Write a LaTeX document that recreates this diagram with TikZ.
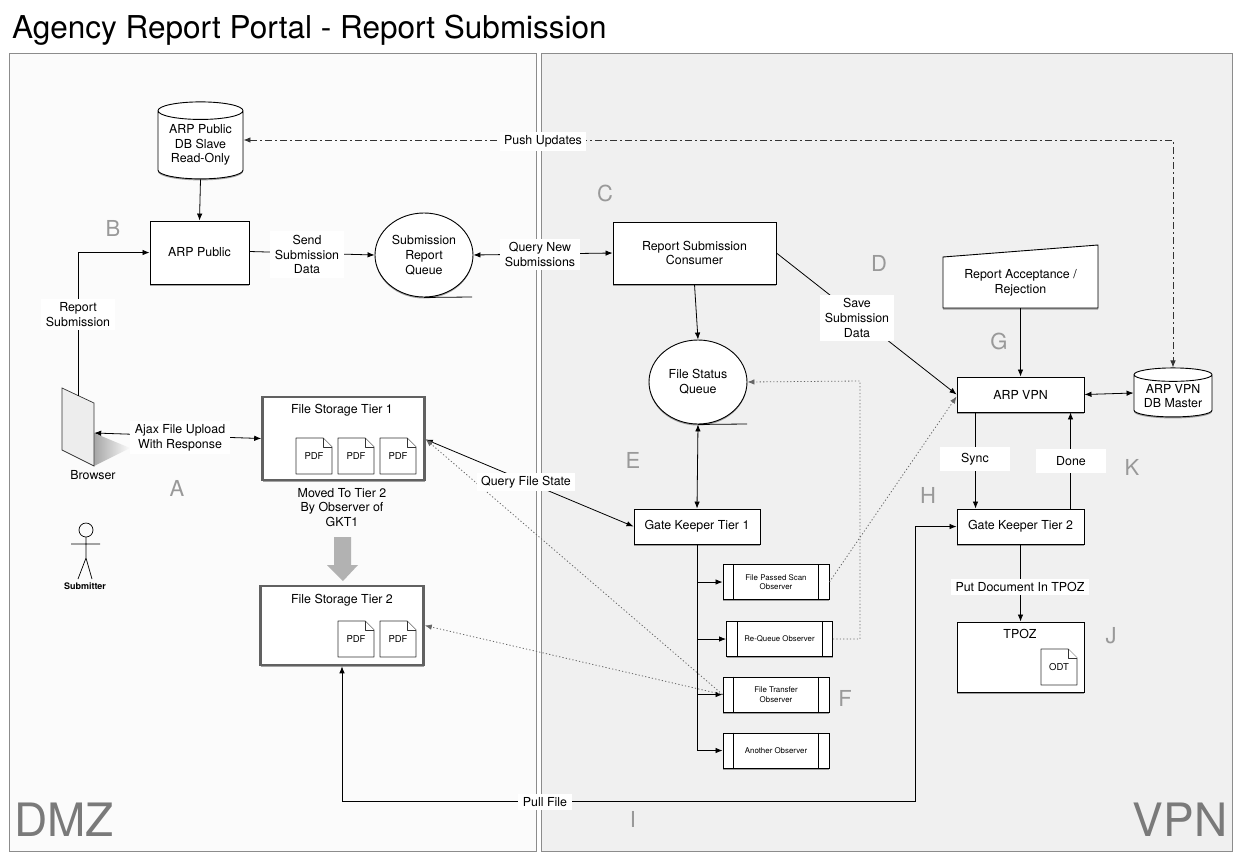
\documentclass[tikz,border=0pt]{standalone}
\usepackage{fontspec}
\setmainfont{TeX Gyre Heros}
\usetikzlibrary{arrows.meta,shapes.geometric,shadows,calc}
\definecolor{dmzbg}{HTML}{FBFBFB}
\definecolor{vpnbg}{HTML}{F0F0F0}
\definecolor{lettergray}{HTML}{999999}
\definecolor{bigtext}{HTML}{7A7A7A}
\tikzset{
  x=1pt,y=-1pt,
  softshadow/.style={drop shadow={shadow xshift=0pt,shadow yshift=-1.5pt,opacity=.35,fill=black}},
  panel/.style={draw=black!45,line width=.7pt,anchor=north west,inner sep=0pt},
  box/.style={draw=black,fill=white,line width=.9pt,inner sep=1pt,align=center,font=\fontsize{12.4}{14.8}\selectfont,softshadow},
  tierbox/.style={draw=black!62,fill=white,line width=2.6pt,inner sep=0pt,softshadow},
  tiertitle/.style={font=\fontsize{12.4}{14.8}\selectfont,inner sep=0pt},
  queue/.style={ellipse,draw=black,fill=white,line width=.9pt,inner sep=0pt,align=center,font=\fontsize{12.4}{14.8}\selectfont,softshadow},
  dbase/.style={cylinder,shape border rotate=90,draw=black,fill=white,line width=.9pt,inner sep=0pt,align=center,font=\fontsize{12.4}{14.8}\selectfont,softshadow,cylinder uses custom fill,cylinder body fill=white,cylinder end fill=white},
  lbl/.style={fill=white,inner xsep=4.5pt,inner ysep=3.5pt,align=center,font=\fontsize{12.4}{14.8}\selectfont},
  plain/.style={inner sep=0pt,align=center,font=\fontsize{12.4}{14.8}\selectfont},
  letter/.style={text=lettergray,inner sep=0pt,font=\fontsize{22}{24}\selectfont},
  bigname/.style={text=bigtext,inner sep=0pt,font=\fontsize{46}{48}\selectfont},
  conn/.style={draw=black,line width=.8pt,-{Latex[length=7pt,width=5.5pt]}},
  conntwo/.style={draw=black,line width=.8pt,{Latex[length=7pt,width=5.5pt]}-{Latex[length=7pt,width=5.5pt]}},
  dots/.style={draw=black!60,line width=.8pt,dash pattern=on 1.2pt off 2.2pt,-{Latex[length=7pt,width=5.5pt]}},
  dashdot/.style={draw=black!80,line width=.8pt,dash pattern=on 7pt off 3pt on 2pt off 3pt,{Latex[length=7pt,width=5.5pt]}-{Latex[length=7pt,width=5.5pt]}},
  obsbox/.style={draw=black,fill=white,line width=.9pt,inner sep=1pt,align=center,softshadow,minimum width=106pt,minimum height=35pt},
  docbox/.style={draw=black!80,fill=white,line width=.8pt,line join=round},
}
\newcommand{\docicon}[4]{%
  \begin{scope}[shift={(#2,#3)}]
    \draw[docbox] (0,0) -- (27,0) -- (36,9) -- (36,36) -- (0,36) -- cycle;
    \draw[docbox] (27,0) -- (27,9) -- (36,9);
    \node[plain,font=\fontsize{9.5}{11}\selectfont] (#1) at (18,18) {#4};
  \end{scope}}
\newcommand{\obsbars}[1]{%
  \draw[black,line width=.9pt] ([xshift=11pt]#1.north west) -- ([xshift=11pt]#1.south west);
  \draw[black,line width=.9pt] ([xshift=-11pt]#1.north east) -- ([xshift=-11pt]#1.south east);}
\begin{document}
\begin{tikzpicture}
\useasboundingbox (0,0) rectangle (1240,860);
\fill[white] (0,0) rectangle (1240,860);
% panels
\node[panel,fill=dmzbg,minimum width=527pt,minimum height=798pt] (dmz) at (9,53) {};
\node[panel,fill=vpnbg,minimum width=691pt,minimum height=798pt] (vpn) at (541,53) {};
\node[anchor=west,inner sep=0pt,font=\fontsize{31.5}{33}\selectfont] (title) at (12,30) {Agency Report Portal - Report Submission};
\node[bigname] (dmzname) at (64,820) {DMZ};
\node[bigname] (vpnname) at (1180,820) {VPN};
% letters
\node[letter] (la) at (177,488) {A};
\node[letter] (lb) at (113,228) {B};
\node[letter] (lc) at (605,193) {C};
\node[letter] (ld) at (879,263) {D};
\node[letter] (le) at (633,460) {E};
\node[letter] (lf) at (845,698) {F};
\node[letter] (lg) at (999,341) {G};
\node[letter] (lh) at (928,495) {H};
\node[letter] (li) at (633,819) {I};
\node[letter] (lj) at (1111,636) {J};
\node[letter] (lk) at (1132,467) {K};
% browser
\shade[left color=black!35,right color=dmzbg,shading angle=90] (94,433) -- (130,448) -- (94,466) -- cycle;
\draw[black!80,fill=black!7,line width=.7pt] (62,388) -- (94,403) -- (94,466) -- (62,450) -- cycle;
\node[inner sep=0pt,minimum width=32pt,minimum height=70pt] (browser) at (78,431) {};
\node[plain] (browsertext) at (93,475) {Browser};
% actor
\draw[black,line width=.7pt] (86,530) circle (7);
\draw[black,line width=.7pt] (86,537) -- (86,558) (71,544) -- (100,544) (78,579) -- (86,558) -- (92,579);
\node[plain,font=\bfseries\fontsize{9}{10}\selectfont] (submitter) at (85,586) {Submitter};
% main nodes
\node[dbase,minimum width=85pt,minimum height=77pt,aspect=.28] (dbslave) at (200.5,145) {ARP Public\\DB Slave\\Read-Only};
\node[box,minimum width=99pt,minimum height=63pt] (arppublic) at (199.5,252.5) {ARP Public};
\node[queue,minimum width=98pt,minimum height=84pt] (subq) at (424,255) {Submission\\Report\\Queue};
\draw[black,line width=.8pt] (subq.south) -- (472,297);
\node[box,minimum width=163pt,minimum height=62pt] (consumer) at (694.5,253) {Report Submission\\Consumer};
\node[queue,minimum width=98pt,minimum height=84pt] (fsq) at (698,382) {File Status\\Queue};
\draw[black,line width=.8pt] (fsq.south) -- (747,424);
\draw[black,fill=white,line width=.9pt,softshadow] (943,257) -- (1098,245) -- (1098,308) -- (943,308) -- cycle;
\node[plain,minimum width=155pt,minimum height=51pt] (accept) at (1020.5,282.5) {Report Acceptance /\\Rejection};
\node[box,minimum width=127pt,minimum height=35pt] (arpvpn) at (1020.5,394.5) {ARP VPN};
\node[dbase,minimum width=78pt,minimum height=49pt,aspect=.23] (dbmaster) at (1173,396) {ARP VPN\\DB Master};
\node[box,minimum width=127pt,minimum height=35pt] (gk2) at (1020.5,526.5) {Gate Keeper Tier 2};
\node[box,minimum width=126pt,minimum height=35pt] (gk1) at (697,526.5) {Gate Keeper Tier 1};
\node[box,minimum width=127pt,minimum height=70pt] (tpoz) at (1020.5,657) {};
\node[tiertitle] (tpoztext) at (1020,634) {TPOZ};
\docicon{odt}{1041}{649}{ODT}
% observers
\node[obsbox,font=\fontsize{7.9}{9.5}\selectfont] (obsa) at (776,582) {File Passed Scan\\Observer};
\obsbars{obsa}
\node[obsbox,font=\fontsize{7.8}{10}\selectfont] (obsb) at (779.5,639) {Re-Queue Observer};
\obsbars{obsb}
\node[obsbox,font=\fontsize{7.9}{9.5}\selectfont] (obsc) at (776,694.5) {File Transfer\\Observer};
\obsbars{obsc}
\node[obsbox,font=\fontsize{7.9}{9.5}\selectfont] (obsd) at (776,750.5) {Another Observer};
\obsbars{obsd}
% storage
\node[tierbox,minimum width=162pt,minimum height=83pt] (fst1) at (343.5,438.5) {};
\node[tiertitle] (fst1text) at (342,410) {File Storage Tier 1};
\docicon{pdfa}{296}{438}{PDF}
\docicon{pdfb}{338}{438}{PDF}
\docicon{pdfc}{380}{438}{PDF}
\node[tierbox,minimum width=163pt,minimum height=79pt] (fst2) at (342,625.5) {};
\node[tiertitle] (fst2text) at (342,600) {File Storage Tier 2};
\docicon{pdfd}{338}{621}{PDF}
\docicon{pdfe}{380}{621}{PDF}
\node[plain] (moved) at (342,507.5) {Moved To Tier 2\\By Observer of\\GKT1};
\fill[black!30] (334,537) -- (351,537) -- (351,565) -- (358,565) -- (343,581) -- (327,565) -- (334,565) -- cycle;
% connectors
\draw[conn] (dbslave.south) -- (arppublic.north);
\draw[conn] (browser.north) |- (arppublic.west);
\draw[conn] ([yshift=1pt]arppublic.east) -- (subq.west);
\draw[conntwo] (subq.east) -- (consumer.west);
\draw[conn] (consumer.south) -- (fsq.north);
\draw[conn] (consumer.east) -- (arpvpn.west);
\draw[conn] (accept.south) -- (arpvpn.north);
\draw[conntwo] (arpvpn.east) -- ([yshift=3pt]dbmaster.west);
\draw[dashdot] ([yshift=5pt]dbslave.east) -- ([yshift=5pt]dbslave.east -| dbmaster.north) -- (dbmaster.north);
\draw[conntwo] (fsq.south) -- (gk1.north);
\draw[conntwo] ([yshift=-2pt]browser.east) -- (fst1.west);
\draw[conntwo] ([yshift=-1pt]fst1.east) -- (gk1.west);
\draw[line width=.8pt,black] (gk1.south) -- (obsd.west -| gk1.south);
\draw[conn] (obsa.west -| gk1.south) -- (obsa.west);
\draw[conn] (obsb.west -| gk1.south) -- (obsb.west);
\draw[conn] (obsc.west -| gk1.south) -- (obsc.west);
\draw[conn] (obsd.west -| gk1.south) -- (obsd.west);
\draw[dots] (obsa.east) -- ([yshift=-2pt]arpvpn.west);
\coordinate (requeuecorner) at (860,639);
\coordinate (requeuetop) at (860,381);
\draw[dots] (obsb.east) -- (requeuecorner) -- (requeuetop) -- (fsq.east);
\draw[dots] (obsc.west) -- ([yshift=-1pt]fst1.east);
\draw[dots] (obsc.west) -- (fst2.east);
\draw[conn] ([xshift=-45pt]arpvpn.south) -- ([xshift=-45pt]gk2.north);
\draw[conn] ([xshift=50pt]gk2.north) -- ([xshift=50pt]arpvpn.south);
\draw[conn] (gk2.south) -- (tpoz.north);
\coordinate (pullleft) at (342,801);
\coordinate (pullright) at (915,801);
\draw[conntwo] (fst2.south) -- (pullleft) -- (pullright) |- (gk2.west);
% connector labels
\node[lbl] (l1) at (78,314.5) {Report\\Submission};
\node[lbl] (l2) at (307,254.5) {Send\\Submission\\Data};
\node[lbl] (l3) at (540,254.5) {Query New\\Submissions};
\node[lbl] (l4) at (857,318) {Save\\Submission\\Data};
\node[lbl] (l5) at (543,141.5) {Push Updates};
\node[lbl] (l6) at (180,437.5) {Ajax File Upload\\With Response};
\node[lbl] (l7) at (526,482) {Query File State};
\node[lbl,minimum width=70pt,minimum height=24pt] (l8) at (975,459) {Sync};
\node[lbl,minimum width=70pt,minimum height=24pt] (l9) at (1071,461) {Done};
\node[lbl] (l10) at (1020,587) {Put Document In TPOZ};
\node[lbl] (l11) at (545,802) {Pull File};
\end{tikzpicture}
\end{document}
